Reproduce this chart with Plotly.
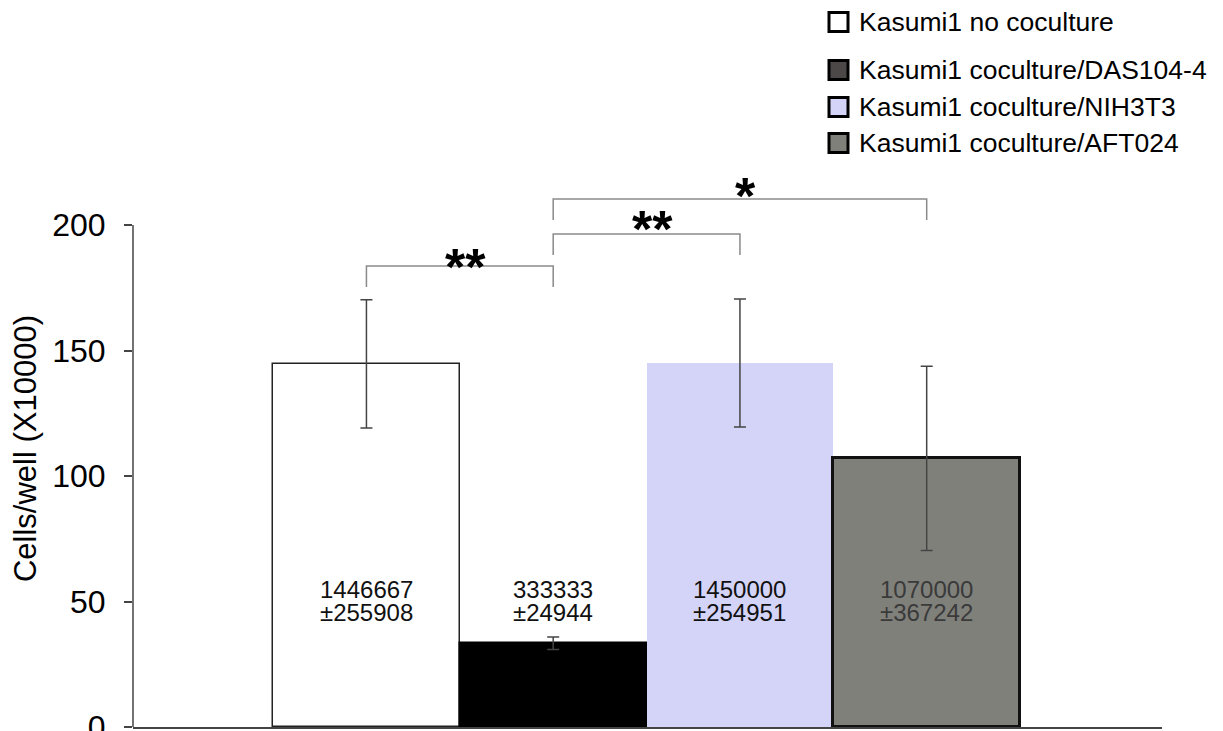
import plotly.graph_objects as go

# ---- data ----
categories = ["Kasumi1 no coculture", "Kasumi1 coculture/DAS104-4",
              "Kasumi1 coculture/NIH3T3", "Kasumi1 coculture/AFT024"]
means = [144.6667, 33.3333, 145.0, 107.0]          # x10000 cells/well
sems = [25.5908, 2.4944, 25.4951, 36.7242]
label_values = ["1446667", "333333", "1450000", "1070000"]
label_errors = ["±255908", "±24944", "±254951", "±367242"]
y_ticks = [0, 50, 100, 150, 200]
# significance comparisons: (bar i, bar j, label)
comparisons = [(0, 1, "**"), (1, 2, "**"), (1, 3, "*")]

# ---- styles ----
fills = ["#ffffff", "#000000", "#d4d4f8", "#80807b"]
edges = ["#222222", "#000000", "#d4d4f8", "#111111"]
edge_w = [1.5, 1.5, 0, 3]
legend_fills = ["#ffffff", "#4d4848", "#d4d4f8", "#80807b"]
label_colors = ["#111111", "#111111", "#111111", "#3a3a3a"]
FONT = "Liberation Sans, Arial, sans-serif"

W, H = 1223, 731
OFF = 8  # page body margin
ML, MR, MT, MB = 125, 69, 162, 12
YMAX = (H - MT - MB) / 2.51

def px_to_paper_x(px):
    return (px - OFF - ML) / (W - ML - MR)

def px_to_paper_y(py):
    return (H - MB - (py - OFF)) / (H - MT - MB)

x = list(range(len(categories)))
fig = go.Figure()
fig.add_trace(go.Bar(
    x=x, y=means, width=1.0,
    marker=dict(color=fills, line=dict(color=edges, width=edge_w)),
    error_y=dict(type="data", array=sems, visible=True, color="#444444",
                 thickness=1.5, width=6),
    showlegend=False, hoverinfo="skip",
))

# value labels inside bars
for i in x:
    fig.add_annotation(x=i, y=54.6, xref="x", yref="y", text=label_values[i],
                       showarrow=False, height=21,
                       font=dict(family=FONT, size=24, color=label_colors[i]))
    fig.add_annotation(x=i, y=45.6, xref="x", yref="y", text=label_errors[i],
                       showarrow=False, height=21,
                       font=dict(family=FONT, size=24, color=label_colors[i]))

# significance brackets
bracket_tops = [183.7, 196.4, 210.4]
leg_drop = 8.4
star_y = [183.4, 198.6, 211.4]
for (a, b, lab), top, sy in zip(comparisons, bracket_tops, star_y):
    fig.add_shape(type="path", xref="x", yref="y",
                  path=f"M {a},{top-leg_drop} L {a},{top} L {b},{top} L {b},{top-leg_drop}",
                  line=dict(color="#8a8a8a", width=1.5))
    fig.add_annotation(x=(a + b) / 2 + 0.03, y=sy, xref="x", yref="y", text=f"<b>{lab}</b>",
                       showarrow=False, yanchor="middle",
                       font=dict(family=FONT, size=52, color="#000000"))

# y axis line (0..200)
fig.add_shape(type="line", xref="paper", yref="y", x0=0, x1=0, y0=0, y1=y_ticks[-1],
              line=dict(color="#444444", width=1.5))

# manual legend
row_py = [22, 70, 107, 143]
for i, name in enumerate(categories):
    cy = row_py[i]
    fig.add_shape(type="rect", xref="paper", yref="paper",
                  x0=px_to_paper_x(829), x1=px_to_paper_x(848),
                  y0=px_to_paper_y(cy + 9.5), y1=px_to_paper_y(cy - 9.5),
                  fillcolor=legend_fills[i], line=dict(color="#000000", width=3))
    fig.add_annotation(x=px_to_paper_x(857), y=px_to_paper_y(cy), xref="paper", yref="paper",
                       text=name, showarrow=False, xanchor="left", yanchor="middle",
                       font=dict(family=FONT, size=26.5, color="#000000"))

fig.update_layout(
    width=W, height=H,
    margin=dict(l=ML, r=MR, t=MT, b=MB, autoexpand=False),
    paper_bgcolor="white", plot_bgcolor="white",
    bargap=0,
    xaxis=dict(range=[-1.25, 4.26], showticklabels=False, ticks="", showgrid=False,
               zeroline=False, showline=True, linecolor="#444444", linewidth=2),
    yaxis=dict(range=[0, YMAX], tickvals=y_ticks, ticks="outside", ticklen=8,
               tickwidth=1.5, tickcolor="#444444", showgrid=False, zeroline=False,
               showline=False, ticklabelstandoff=12, ticklabeloverflow="allow",
               tickfont=dict(family=FONT, size=32, color="#000000"),
               title=dict(text="Cells/well (X10000)", standoff=12,
                          font=dict(family=FONT, size=31, color="#000000"))),
    font=dict(family=FONT),
)

fig.write_html("out.html")
